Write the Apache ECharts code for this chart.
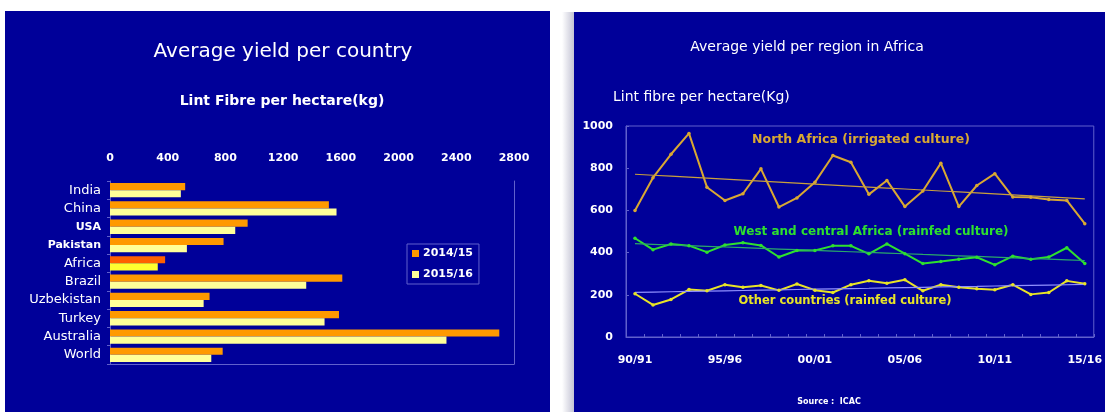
<!DOCTYPE html>
<html>
<head>
<meta charset="utf-8">
<script src="https://cdn.jsdelivr.net/npm/echarts@6/dist/echarts.min.js"></script>
<style>
  html, body { margin: 0; padding: 0; background: #ffffff; }
  #chart { width: 1105px; height: 412px; }
</style>
</head>
<body>
<div id="chart"></div>
<script>
// Average lint yield per country (kg/ha)
const countries = ['India', 'China', 'USA', 'Pakistan', 'Africa', 'Brazil', 'Uzbekistan', 'Turkey', 'Australia', 'World'];
const yield1415 = [521, 1517, 954, 787, 382, 1610, 690, 1587, 2698, 781];
const yield1516 = [491, 1570, 868, 533, 331, 1360, 649, 1487, 2332, 702];

// Average lint yield per African region (kg/ha), 1990/91 - 2015/16
const seasons = ['90/91', '91/92', '92/93', '93/94', '94/95', '95/96', '96/97', '97/98', '98/99', '99/00',
  '00/01', '01/02', '02/03', '03/04', '04/05', '05/06', '06/07', '07/08', '08/09', '09/10',
  '10/11', '11/12', '12/13', '13/14', '14/15', '15/16'];
const northAfrica = [600, 755, 866, 965, 710, 647, 679, 797, 616, 659, 733, 860, 828, 676, 742, 618, 692, 824, 618, 718, 774, 663, 662, 652, 647, 537];
const westCentralAfrica = [468, 414, 441, 433, 402, 436, 447, 434, 379, 410, 410, 432, 432, 394, 441, 395, 348, 358, 369, 378, 342, 383, 369, 379, 423, 348];
const otherCountries = [205, 152, 178, 225, 219, 248, 236, 244, 221, 251, 222, 211, 248, 267, 255, 271, 219, 248, 236, 229, 224, 248, 202, 211, 266, 252];

// least-squares linear trend over the season index
function linearTrend(values) {
  const n = values.length;
  const mx = (n - 1) / 2;
  const my = values.reduce((a, b) => a + b, 0) / n;
  let sxy = 0, sxx = 0;
  values.forEach((v, i) => { sxy += (i - mx) * (v - my); sxx += (i - mx) * (i - mx); });
  const slope = sxy / sxx;
  return values.map((_, i) => +(my + slope * (i - mx)).toFixed(2));
}

const FONT = 'DejaVu Sans';
const NAVY = '#000099';
const FRAME = '#6060cc';
const GOLD = '#d9a832';
const GREEN = '#2ee02e';
const YELLOW = '#e8e426';
const plain = v => String(v);

// Africa bars are highlighted in stronger colours
const highlight = { Africa: ['#ff6000', '#ffff30'] };
const smallLabels = ['USA', 'Pakistan'];

const bars1415 = countries.map((c, i) => highlight[c] ? { value: yield1415[i], itemStyle: { color: highlight[c][0] } } : yield1415[i]);
const bars1516 = countries.map((c, i) => highlight[c] ? { value: yield1516[i], itemStyle: { color: highlight[c][1] } } : yield1516[i]);

const chart = echarts.init(document.getElementById('chart'), null, { renderer: 'canvas' });

function label(text, x, y, color, font, align) {
  return { type: 'text', x: x, y: y, style: { text: text, fill: color, font: font, textAlign: align || 'center', textVerticalAlign: 'middle' } };
}

const option = {
  backgroundColor: '#ffffff',
  animation: false,
  textStyle: { fontFamily: FONT },
  graphic: {
    elements: [
      { type: 'rect', z: -10, shape: { x: 5, y: 11, width: 545, height: 401 }, style: { fill: NAVY } },
      { type: 'rect', z: -10, shape: { x: 562, y: 12, width: 12, height: 400 },
        style: { fill: new echarts.graphic.LinearGradient(0, 0, 1, 0, [{ offset: 0, color: '#ffffff' }, { offset: 1, color: '#c4c4d4' }]) } },
      { type: 'rect', z: -10, shape: { x: 574, y: 12, width: 531, height: 400 }, style: { fill: NAVY } },
      label('Average yield per country', 283, 52, '#ffffff', '20px "DejaVu Sans"'),
      label('Lint Fibre per hectare(kg)', 282, 101, '#ffffff', 'bold 14px "DejaVu Sans"'),
      label('Average yield per region in Africa', 807, 47, '#ffffff', '14px "DejaVu Sans"'),
      label('Lint fibre per hectare(Kg)', 613, 97, '#ffffff', '14px "DejaVu Sans"', 'left'),
      label('North Africa (irrigated culture)', 861, 140, GOLD, 'bold 12.5px "DejaVu Sans"'),
      label('West and central Africa (rainfed culture)', 871, 232, GREEN, 'bold 12px "DejaVu Sans"'),
      label('Other countries (rainfed culture)', 845, 301, YELLOW, 'bold 11.5px "DejaVu Sans"'),
      label('Source :  ICAC', 829, 402, '#ffffff', 'bold 8px "DejaVu Sans"')
    ]
  },
  legend: {
    data: ['2014/15', '2015/16'],
    orient: 'vertical',
    left: 407, top: 244,
    padding: [4, 6, 4, 5],
    itemWidth: 7, itemHeight: 7, itemGap: 10,
    icon: 'rect',
    borderColor: FRAME, borderWidth: 1,
    textStyle: { color: '#ffffff', fontWeight: 'bold', fontSize: 11, fontFamily: FONT, padding: [0, 0, 0, -1] }
  },
  grid: [
    { left: 110, top: 181, width: 404, height: 183, containLabel: false },
    { left: 626, top: 126, width: 473, height: 211, containLabel: false, show: true, borderColor: FRAME, borderWidth: 1, backgroundColor: 'transparent' }
  ],
  xAxis: [
    { gridIndex: 0, type: 'value', position: 'top', min: 0, max: 2800, interval: 400,
      axisLine: { show: false }, axisTick: { show: false }, splitLine: { show: false },
      axisLabel: { color: '#ffffff', fontWeight: 'bold', fontSize: 11, margin: 17, fontFamily: FONT, formatter: plain } },
    { gridIndex: 0, type: 'value', position: 'bottom', min: 0, max: 2800,
      axisLine: { show: true, onZero: false, lineStyle: { color: FRAME } }, axisTick: { show: false }, axisLabel: { show: false }, splitLine: { show: false } },
    { gridIndex: 1, type: 'category', data: seasons, boundaryGap: true,
      axisLine: { show: true, onZero: false, lineStyle: { color: FRAME } },
      axisTick: { show: true, inside: true, interval: 0, length: 3, lineStyle: { color: FRAME } },
      axisLabel: { interval: 4, color: '#ffffff', fontWeight: 'bold', fontSize: 11, margin: 18, fontFamily: FONT },
      splitLine: { show: false } }
  ],
  yAxis: [
    { gridIndex: 0, type: 'category', data: countries, inverse: true, position: 'left',
      axisLine: { show: true, onZero: false, lineStyle: { color: FRAME } },
      axisTick: { show: true, length: 3, lineStyle: { color: FRAME } },
      axisLabel: { color: '#ffffff', margin: 9, fontFamily: FONT,
        formatter: v => smallLabels.includes(v) ? '{s|' + v + '}' : '{n|' + v + '}',
        rich: { n: { fontSize: 13, color: '#ffffff', fontFamily: FONT }, s: { fontSize: 11, fontWeight: 'bold', color: '#ffffff', fontFamily: FONT } } } },
    { gridIndex: 0, type: 'category', data: countries, inverse: true, position: 'right',
      axisLine: { show: true, onZero: false, lineStyle: { color: FRAME } }, axisTick: { show: false }, axisLabel: { show: false } },
    { gridIndex: 1, type: 'value', min: 0, max: 1000, interval: 200,
      axisLine: { show: true, onZero: false, lineStyle: { color: FRAME } },
      axisTick: { show: true, length: 3, inside: true, lineStyle: { color: FRAME } },
      axisLabel: { color: '#ffffff', fontWeight: 'bold', fontSize: 11, margin: 13, fontFamily: FONT, formatter: plain },
      splitLine: { show: false } }
  ],
  series: [
    { name: '2014/15', type: 'bar', xAxisIndex: 0, yAxisIndex: 0, data: bars1415,
      itemStyle: { color: '#ff9900' }, barGap: '0%', barCategoryGap: '22%' },
    { name: '2015/16', type: 'bar', xAxisIndex: 0, yAxisIndex: 0, data: bars1516,
      itemStyle: { color: '#ffff99' }, barGap: '0%', barCategoryGap: '22%' },

    { name: 'North Africa', type: 'line', xAxisIndex: 2, yAxisIndex: 2, data: northAfrica,
      symbol: 'circle', symbolSize: 3.5, itemStyle: { color: GOLD }, lineStyle: { color: GOLD, width: 2 } },
    { name: 'North Africa trend', type: 'line', xAxisIndex: 2, yAxisIndex: 2, data: linearTrend(northAfrica),
      symbol: 'none', lineStyle: { color: '#c9a03c', width: 1.2 } },
    { name: 'West and central Africa', type: 'line', xAxisIndex: 2, yAxisIndex: 2, data: westCentralAfrica,
      symbol: 'circle', symbolSize: 3.5, itemStyle: { color: GREEN }, lineStyle: { color: GREEN, width: 2 } },
    { name: 'West and central Africa trend', type: 'line', xAxisIndex: 2, yAxisIndex: 2, data: linearTrend(westCentralAfrica),
      symbol: 'none', lineStyle: { color: '#2aa86a', width: 1.2 } },
    { name: 'Other countries', type: 'line', xAxisIndex: 2, yAxisIndex: 2, data: otherCountries,
      symbol: 'circle', symbolSize: 3.5, itemStyle: { color: YELLOW }, lineStyle: { color: YELLOW, width: 2 } },
    { name: 'Other countries trend', type: 'line', xAxisIndex: 2, yAxisIndex: 2, data: linearTrend(otherCountries),
      symbol: 'none', lineStyle: { color: '#9090ff', width: 1.2 } }
  ]
};

chart.setOption(option);
</script>
</body>
</html>
